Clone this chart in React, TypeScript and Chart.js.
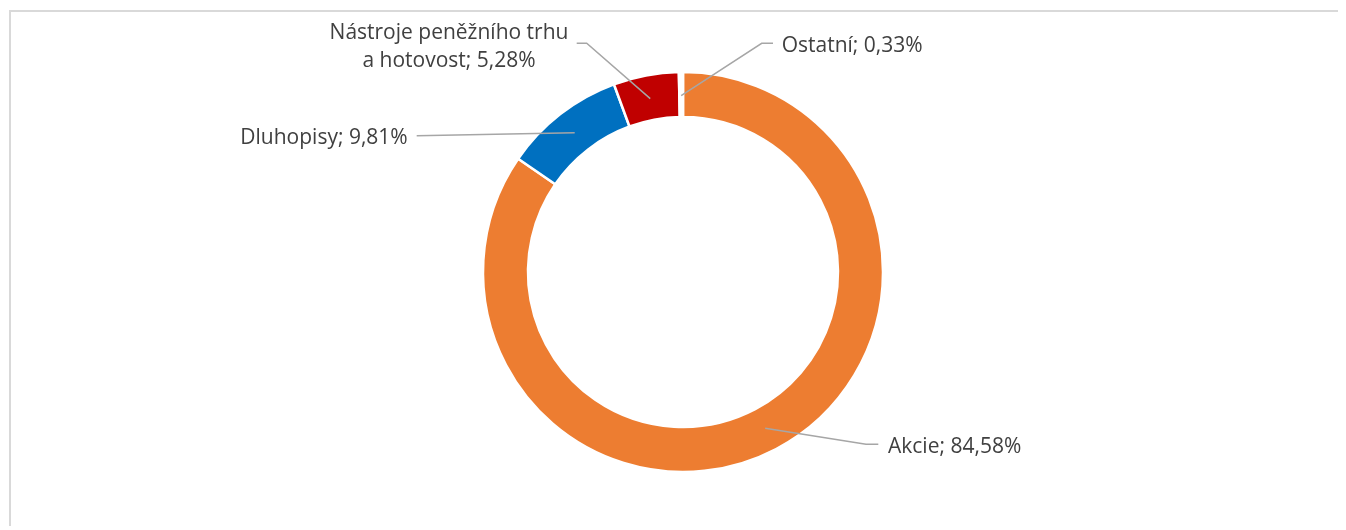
import React, { useEffect, useRef } from "react";
import { Chart, registerables } from "chart.js";

Chart.register(...registerables);

const categories = ["Akcie", "Dluhopisy", "Nástroje peněžního trhu\na hotovost", "Ostatní"];
const shares = [84.58, 9.81, 5.28, 0.33];
const colors = ["#ED7D31", "#0070C0", "#C00000", "#FFFFFF"];

// label layout relative to the doughnut centre (text position, leader start, elbow)
const labelLayout = [
  { tx: 205, ty: 180.7, align: "left", sx: 195.3, sy: 172.3, ex: 183, ey: 172.3 },
  { tx: -275.3, ty: -128, align: "right", sx: -266.3, sy: -136.3, ex: -266.3, ey: -136.3 },
  { tx: -234, ty: -233, align: "center", sx: -106.3, sy: -228.7, ex: -96.3, ey: -228.7 },
  { tx: 98.7, ty: -220.3, align: "left", sx: 90, sy: -228.7, ex: 78.7, ey: -228.7 },
];

const fmt = (v: number) => v.toFixed(2).replace(".", ",") + "%";

const labelPlugin = {
  id: "leaderLabels",
  afterDatasetsDraw(chart: any) {
    const ctx = chart.ctx;
    const meta = chart.getDatasetMeta(0);
    ctx.save();
    meta.data.forEach((arc: any, i: number) => {
      const p = arc.getProps(["x", "y", "startAngle", "endAngle", "innerRadius", "outerRadius"], true);
      const cx = p.x, cy = p.y;
      const mid = (p.startAngle + p.endAngle) / 2;
      const r = (p.innerRadius + p.outerRadius) / 2 - 1;
      const ax = cx + Math.cos(mid) * r;
      const ay = cy + Math.sin(mid) * r;
      const L = labelLayout[i];
      ctx.strokeStyle = "#A6A6A6";
      ctx.lineWidth = 1.5;
      ctx.beginPath();
      ctx.moveTo(cx + L.sx, cy + L.sy);
      ctx.lineTo(cx + L.ex, cy + L.ey);
      ctx.lineTo(ax, ay);
      ctx.stroke();
      const lines = categories[i].split("\n");
      lines[lines.length - 1] += "; " + fmt(shares[i]);
      ctx.fillStyle = "#404040";
      ctx.font = '21px "Open Sans"';
      ctx.textBaseline = "alphabetic";
      ctx.textAlign = L.align;
      lines.forEach((t, k) => {
        ctx.fillText(t, cx + L.tx, cy + L.ty + k * 27.7);
      });
    });
    ctx.restore();
  },
};

export default function App() {
  const ref = useRef<HTMLCanvasElement>(null);
  useEffect(() => {
    document.documentElement.style.overflow = "hidden";
    document.body.style.overflow = "hidden";
    if (!ref.current) return;
    const chart = new Chart(ref.current, {
      type: "doughnut",
      data: {
        labels: categories,
        datasets: [
          {
            data: shares,
            backgroundColor: colors,
            borderColor: "#FFFFFF",
            borderWidth: 2.5,
          },
        ],
      },
      options: {
        animation: false,
        responsive: true,
        maintainAspectRatio: false,
        radius: 200,
        cutout: "77.5%",
        layout: { padding: { left: 9, top: 4, right: 0, bottom: 0 } },
        plugins: { legend: { display: false }, tooltip: { enabled: false } },
      } as any,
      plugins: [labelPlugin],
    });
    return () => chart.destroy();
  }, []);
  return (
    <div
      style={{
        position: "relative",
        left: 1,
        top: 2,
        width: 1335,
        height: 516,
        borderTop: "2px solid #D9D9D9",
        borderLeft: "2px solid #D9D9D9",
        background: "#FFFFFF",
      }}
    >
      <canvas ref={ref} />
    </div>
  );
}
